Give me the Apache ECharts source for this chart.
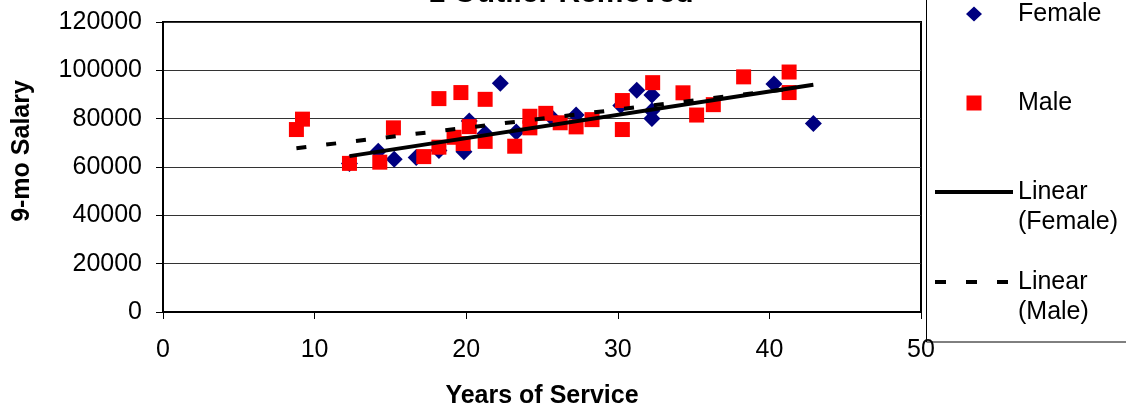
<!DOCTYPE html>
<html>
<head>
<meta charset="UTF-8">
<title>Salary vs Years of Service</title>
<script src="https://cdn.jsdelivr.net/npm/echarts@6/dist/echarts.min.js"></script>
<style>
  html, body { margin: 0; padding: 0; background: #fff; }
</style>
</head>
<body>
<div id="main" style="width:1126px;height:405px;"></div>
<script>
// values: [years, salary]
var femaleData = [
  [12.3, 61500], [14.2, 66500], [15.25, 63200], [16.7, 63900], [18.2, 66800],
  [19.85, 66300], [20.2, 79000], [21.25, 73900], [22.25, 94700], [23.3, 74500],
  [25.6, 80800], [27.25, 81500], [30.2, 85500], [31.25, 91800], [32.25, 89800],
  [32.25, 83300], [32.25, 80100], [40.3, 94300], [42.9, 78000]
];
var maleData = [
  [8.8, 75500], [9.2, 79800], [12.3, 61500], [14.3, 62000], [15.2, 76200],
  [17.2, 64300], [18.2, 68200], [18.2, 88300], [19.2, 72300], [19.65, 90800],
  [19.8, 69700], [20.2, 76700], [21.25, 70600], [21.25, 88000], [23.2, 68600],
  [24.2, 81000], [24.2, 76200], [25.25, 82200], [26.2, 78300], [27.25, 76600],
  [28.3, 79600], [30.3, 87500], [30.3, 75500], [32.3, 94900], [34.3, 90700],
  [35.2, 81500], [36.3, 85800], [38.3, 97300], [41.3, 99300], [41.3, 90800]
];
// trend line end points as drawn in the picture
var femaleTrend = [[12.3, 64500], [42.9, 94000]];
var maleTrend = [[8.8, 67800], [41.3, 92300]];

var FONT = 'Liberation Sans, Arial, sans-serif';

var chart = echarts.init(document.getElementById('main'));

// legend icons: empty points at the box corners keep each icon 78px wide
var diamondIcon = 'path://M0,0L0,0Z M78,15L78,15Z M31,7.5L39,0L47,7.5L39,15Z';
var squareIcon = 'path://M0,0L0,0Z M78,15L78,15Z M31.5,0h15v15h-15z';
var solidIcon = 'path://M0,0h78v4h-78z';
var dashIcon = 'path://M0,0h11v4h-11z M31,0h11v4h-11z M62,0h11v4h-11z M78,4L78,4Z';

function oneLegend(name, top, icon, label, h) {
  return {
    data: [{ name: name, icon: icon }],
    orient: 'vertical',
    left: 935,
    top: top,
    padding: 0,
    itemWidth: 78,
    itemHeight: h,
    selectedMode: false,
    itemStyle: { borderWidth: 0 },
    formatter: label || '{name}',
    textStyle: { fontFamily: FONT, fontSize: 25, color: '#000', lineHeight: 30 }
  };
}

var option = {
  backgroundColor: '#fff',
  animation: false,
  grid: {
    left: 163, right: 205, top: 22, bottom: 93,
    show: true, borderColor: '#000', borderWidth: 2,
    containLabel: false, outerBoundsMode: 'none'
  },
  legend: [
    oneLegend('Female', -1, diamondIcon, null, 15),
    oneLegend('Male', 88, squareIcon, null, 15),
    oneLegend('Linear (Female)', 147, solidIcon, ' \nLinear\n(Female)', 4),
    oneLegend('Linear (Male)', 237, dashIcon, ' \nLinear\n(Male)', 4)
  ],
  xAxis: {
    type: 'value', min: 0, max: 50, interval: 10,
    name: 'Years of Service', nameLocation: 'middle', nameGap: 72,
    nameTextStyle: { fontFamily: FONT, fontSize: 25, fontWeight: 'bold', color: '#000' },
    axisLine: { show: true, lineStyle: { color: '#000', width: 2 } },
    axisTick: { show: true, inside: false, length: 7, lineStyle: { color: '#000', width: 1 } },
    axisLabel: { fontFamily: FONT, fontSize: 25, color: '#000', margin: 26 },
    splitLine: { show: false }
  },
  yAxis: {
    type: 'value', min: 0, max: 120000, interval: 20000,
    axisLine: { show: true, lineStyle: { color: '#000', width: 2 } },
    axisTick: { show: true, inside: false, length: 7, lineStyle: { color: '#000', width: 1 } },
    axisLabel: {
      fontFamily: FONT, fontSize: 25, color: '#000', margin: 21,
      formatter: function (v) { return String(v); }
    },
    splitLine: { show: true, lineStyle: { color: '#333', width: 1 } }
  },
  graphic: [
    {
      type: 'text', x: 561, y: -6, z: 100,
      style: { text: '1 Outlier Removed', font: 'bold 30px ' + FONT, fill: '#000',
               textAlign: 'center', textVerticalAlign: 'middle' }
    },
    {
      type: 'text', x: 22, y: 151, rotation: Math.PI / 2, z: 100,
      style: { text: '9-mo Salary', font: 'bold 25px ' + FONT, fill: '#000',
               textAlign: 'center', textVerticalAlign: 'middle' }
    },
    {
      type: 'rect', z: 0, silent: true,
      shape: { x: 926.5, y: -5, width: 300, height: 347 },
      style: { fill: 'none', stroke: '#000', lineWidth: 1 }
    }
  ],
  series: [
    {
      name: 'Female', type: 'scatter', data: femaleData,
      symbol: 'diamond', symbolSize: 17,
      itemStyle: { color: '#000080', opacity: 1 }, z: 2
    },
    {
      name: 'Male', type: 'scatter', data: maleData,
      symbol: 'rect', symbolSize: 15,
      itemStyle: { color: '#ff0000', opacity: 1 }, z: 3
    },
    {
      name: 'Linear (Female)', type: 'line', data: femaleTrend,
      symbol: 'none', showSymbol: false,
      lineStyle: { color: '#000', width: 4, type: 'solid' },
      itemStyle: { color: '#000' }, z: 4
    },
    {
      name: 'Linear (Male)', type: 'line', data: maleTrend,
      symbol: 'none', showSymbol: false,
      lineStyle: { color: '#000', width: 4, type: [10, 20] },
      itemStyle: { color: '#000' }, z: 4
    }
  ]
};

chart.setOption(option);
</script>
</body>
</html>
